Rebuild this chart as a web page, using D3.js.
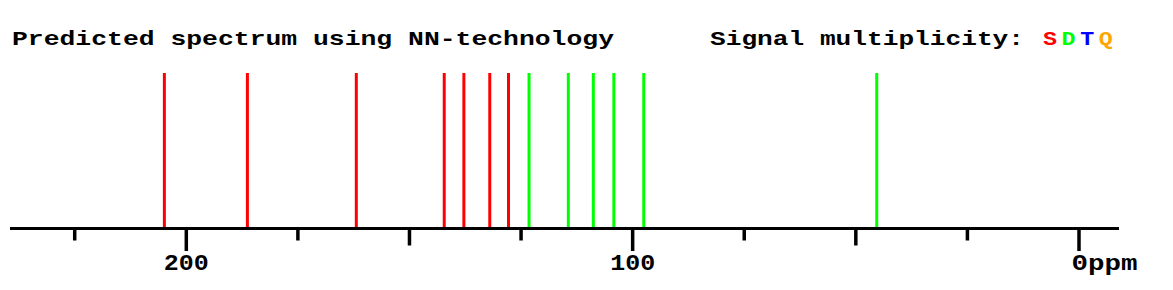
<!DOCTYPE html>
<html>
<head>
<meta charset="utf-8">
<script src="https://cdn.jsdelivr.net/npm/d3@7"></script>
<style>
  body { margin: 0; background: #fff; }
  text { font-family: "Courier New", "Liberation Mono", monospace; font-weight: bold; }
</style>
</head>
<body>
<svg id="vis" width="1173" height="290"></svg>
<script>
// predicted shifts (ppm) and their multiplicity
var shifts = [204.8, 186.2, 161.8, 142.1, 137.7, 131.9, 127.7, 123.1, 114.3, 108.7, 104.1, 97.4, 45.2];
var mults  = ["S", "S", "S", "S", "S", "S", "S", "D", "D", "D", "D", "D", "D"];

var multLetters = ["S", "D", "T", "Q"];
var multColors  = { S: "#ff0000", D: "#00ff00", T: "#0000ff", Q: "#ffa500" };

var minorTicks = [225, 175, 125, 75, 25];
var midTicks   = [150, 50];
var labelTicks = [200, 100, 0];

var svg = d3.select("#vis");

var xScale = d3.scaleLinear().domain([200, 0])
                             .range([185.8, 1078.5]);
var axisY = 228.5;
var peakTop = 73;

// title
svg.append("text")
   .attr("x", 12)
   .attr("y", 45)
   .attr("font-size", 21)
   .attr("textLength", 602)
   .attr("lengthAdjust", "spacingAndGlyphs")
   .text("Predicted spectrum using NN-technology");

// legend
svg.append("text")
   .attr("x", 710)
   .attr("y", 45)
   .attr("font-size", 21)
   .attr("textLength", 314)
   .attr("lengthAdjust", "spacingAndGlyphs")
   .text("Signal multiplicity:");

svg.selectAll(".mult")
   .data(multLetters)
   .enter()
   .append("text")
   .attr("class", "mult")
   .attr("x", (d, i) => 1043 + i * 18.6)
   .attr("y", 45)
   .attr("font-size", 21)
   .attr("textLength", 14)
   .attr("lengthAdjust", "spacingAndGlyphs")
   .attr("fill", d => multColors[d])
   .text(d => d);

// peaks
svg.selectAll(".peak")
   .data(shifts)
   .enter()
   .append("line")
   .attr("class", "peak")
   .attr("x1", d => xScale(d))
   .attr("x2", d => xScale(d))
   .attr("y1", peakTop)
   .attr("y2", axisY)
   .attr("stroke", (d, i) => multColors[mults[i]])
   .attr("stroke-width", 3);

// ticks of three lengths
function tickLayer(values, size) {
	var g = svg.append("g")
	           .attr("transform", "translate(0," + axisY + ")")
	           .call(d3.axisBottom(xScale).tickValues(values).tickSize(size).tickFormat(""));
	g.select(".domain").remove();
	g.selectAll(".tick line").attr("stroke", "#000").attr("stroke-width", 3.5);
	return g;
}
tickLayer(minorTicks, 12);
tickLayer(midTicks, 17);
var lab = tickLayer(labelTicks, 22.5);

lab.selectAll(".tick text")
   .attr("y", 41.5)
   .attr("dy", null)
   .attr("fill", "#000")
   .attr("font-size", 22)
   .attr("font-family", null)
   .attr("text-anchor", d => d == 0 ? "start" : "middle")
   .attr("x", d => d == 0 ? -7.5 : 0)
   .attr("textLength", d => d == 0 ? 66 : 45)
   .attr("lengthAdjust", "spacingAndGlyphs")
   .text(d => d == 0 ? "0ppm" : d);

// base line
svg.append("line")
   .attr("x1", 10)
   .attr("x2", 1119)
   .attr("y1", axisY)
   .attr("y2", axisY)
   .attr("stroke", "#000")
   .attr("stroke-width", 3);
</script>
</body>
</html>
